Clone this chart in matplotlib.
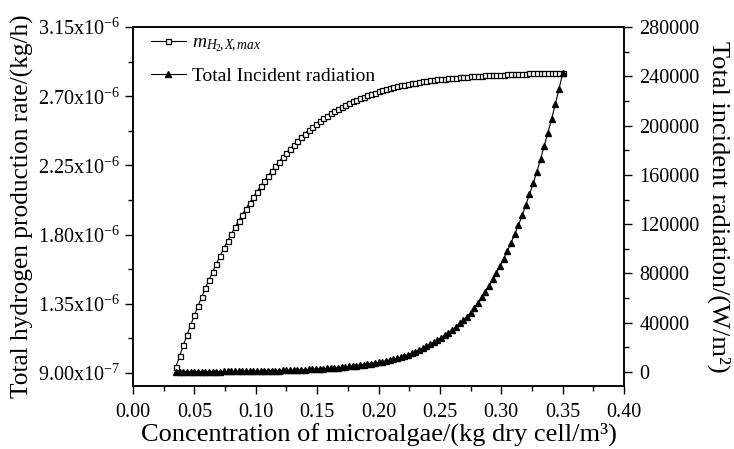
import matplotlib
matplotlib.use("Agg")
import matplotlib.pyplot as plt
from matplotlib.ticker import MultipleLocator, FuncFormatter
import math

plt.rcParams['font.family'] = ['Liberation Serif', 'DejaVu Serif']
plt.rcParams['mathtext.fontset'] = 'custom'
plt.rcParams['mathtext.rm'] = 'Liberation Serif'
plt.rcParams['mathtext.it'] = 'Liberation Serif:italic'
plt.rcParams['mathtext.bf'] = 'Liberation Serif:bold'

# ---- data ----
concentration = [
    0.035, 0.038, 0.041, 0.044, 0.047, 0.050, 0.053, 0.056, 0.059, 0.062,
    0.065, 0.068, 0.071, 0.074, 0.077, 0.080, 0.083, 0.086, 0.089, 0.092,
    0.095, 0.098, 0.101, 0.104, 0.107, 0.110, 0.113, 0.116, 0.119, 0.122,
    0.125, 0.128, 0.131, 0.134, 0.137, 0.140, 0.143, 0.146, 0.149, 0.152,
    0.155, 0.158, 0.161, 0.164, 0.167, 0.170, 0.173, 0.176, 0.179, 0.182,
    0.185, 0.188, 0.191, 0.194, 0.197, 0.200, 0.203, 0.206, 0.209, 0.212,
    0.215, 0.218, 0.221, 0.224, 0.227, 0.230, 0.233, 0.236, 0.239, 0.242,
    0.245, 0.248, 0.251, 0.254, 0.257, 0.260, 0.263, 0.266, 0.269, 0.272,
    0.275, 0.278, 0.281, 0.284, 0.287, 0.290, 0.293, 0.296, 0.299, 0.302,
    0.305, 0.308, 0.311, 0.314, 0.317, 0.320, 0.323, 0.326, 0.329, 0.332,
    0.335, 0.338, 0.341, 0.344, 0.347, 0.350]

# hydrogen production rate, in units of 1e-6 kg/h
h2_rate_e6 = [
    0.941, 1.011, 1.080, 1.147, 1.212, 1.275, 1.336, 1.395, 1.452, 1.507,
    1.560, 1.612, 1.662, 1.711, 1.758, 1.803, 1.847, 1.889, 1.930, 1.969,
    2.007, 2.044, 2.080, 2.115, 2.149, 2.182, 2.214, 2.245, 2.275, 2.304,
    2.332, 2.359, 2.385, 2.410, 2.434, 2.457, 2.479, 2.500, 2.520, 2.539,
    2.557, 2.574, 2.590, 2.605, 2.619, 2.632, 2.644, 2.656, 2.667, 2.678,
    2.688, 2.698, 2.707, 2.716, 2.724, 2.732, 2.739, 2.746, 2.753, 2.759,
    2.765, 2.770, 2.775, 2.780, 2.784, 2.788, 2.792, 2.796, 2.800, 2.803,
    2.806, 2.809, 2.812, 2.815, 2.817, 2.819, 2.821, 2.823, 2.825, 2.827,
    2.829, 2.831, 2.832, 2.834, 2.835, 2.837, 2.838, 2.839, 2.840, 2.841,
    2.842, 2.843, 2.844, 2.845, 2.846, 2.847, 2.848, 2.849, 2.849, 2.850,
    2.851, 2.851, 2.852, 2.852, 2.853, 2.853]

# total incident radiation, W/m^2
radiation = [
    171, 183, 196, 211, 226, 242, 259, 278, 298, 320,
    343, 367, 394, 422, 452, 485, 520, 557, 597, 640,
    686, 736, 789, 845, 906, 972, 1042, 1117, 1197, 1283,
    1376, 1475, 1581, 1695, 1817, 1948, 2088, 2238, 2399, 2572,
    2757, 2956, 3169, 3397, 3641, 3903, 4185, 4486, 4809, 5155,
    5526, 5924, 6351, 6808, 7298, 7824, 8387, 8991, 9638, 10332,
    11076, 11900, 13000, 14000, 15200, 16500, 17900, 19200, 20900, 22500,
    24100, 26000, 27800, 29800, 31900, 34100, 36800, 39500, 42200, 44900,
    48100, 51700, 56000, 60500, 65200, 70100, 75200, 80600, 86000, 91900,
    98200, 104900, 112000, 119300, 127100, 135500, 144200, 153100, 162500, 172800,
    183400, 194200, 205300, 217200, 229400, 242400]

h2_rate = [v * 1e-6 for v in h2_rate_e6]

x_label = 'Concentration of microalgae/(kg dry cell/m³)'
y_left_label = 'Total hydrogen production rate/(kg/h)'
y_right_label = 'Total incident radiation/(W/m²)'
legend_h2 = r'$m_{H_2\!,X\!,max}$'
legend_rad = 'Total Incident radiation'

# ---- figure ----
fig = plt.figure(figsize=(7.34, 4.49), dpi=100)
ax = fig.add_axes([133/734, 1-386/449, (624-133)/734, (386-27)/449])
ax2 = ax.twinx()

l1, = ax.plot(concentration, h2_rate, color='black', lw=0.8, marker='s',
              markersize=3.6, markerfacecolor='white', markeredgecolor='black',
              markeredgewidth=0.9, label=legend_h2)
l2, = ax2.plot(concentration, radiation, color='black', lw=0.8, marker='^',
               markersize=4.6, markerfacecolor='black', markeredgecolor='black',
               label=legend_rad)

ax.set_xlim(0, 0.40)
ax.set_ylim(8.155e-7, 3.15e-6)
ax2.set_ylim(-11362, 280000)

ax.xaxis.set_major_locator(MultipleLocator(0.05))
ax.xaxis.set_minor_locator(MultipleLocator(0.025))
ax.xaxis.set_major_formatter(FuncFormatter(lambda v, p: f'{v:.2f}'))

ax.set_yticks([9.0e-7, 1.35e-6, 1.80e-6, 2.25e-6, 2.70e-6, 3.15e-6])
ax.yaxis.set_minor_locator(MultipleLocator(0.225e-6))

def sci_fmt(v, pos):
    if v == 0:
        return '0'
    e = int(math.floor(math.log10(abs(v)) + 1e-9))
    m = v / 10**e
    return f'{m:.2f}x10$^{{{e}}}$'

ax.yaxis.set_major_formatter(FuncFormatter(sci_fmt))

ax2.yaxis.set_major_locator(MultipleLocator(40000))
ax2.yaxis.set_minor_locator(MultipleLocator(20000))
ax2.yaxis.set_major_formatter(FuncFormatter(lambda v, p: f'{int(round(v))}'))

for a in (ax, ax2):
    for s in a.spines.values():
        s.set_linewidth(1.1)
    a.tick_params(which='major', direction='out', length=6, width=1.0, labelsize=14.5)
    a.tick_params(which='minor', direction='out', length=3.5, width=1.0)

ax.tick_params(axis='x', which='major', pad=6)
ax.tick_params(axis='y', which='major', pad=3)
ax2.tick_params(axis='y', which='major', pad=5)
ax.tick_params(axis='y', which='both', right=False)
ax.tick_params(axis='x', which='both', top=False)

ax.set_xlabel(x_label, fontsize=19, labelpad=1)
ax.set_ylabel(y_left_label, fontsize=18.3, labelpad=3)
ax2.set_ylabel(y_right_label, fontsize=19, rotation=270, labelpad=22)

leg = ax.legend(handles=[l1, l2], loc='upper left', frameon=False, fontsize=14,
                handlelength=1.8, handletextpad=0.35, labelspacing=0.7,
                borderaxespad=0.0, bbox_to_anchor=(0.02, 1.003))

fig.savefig('out.png', dpi=100)
